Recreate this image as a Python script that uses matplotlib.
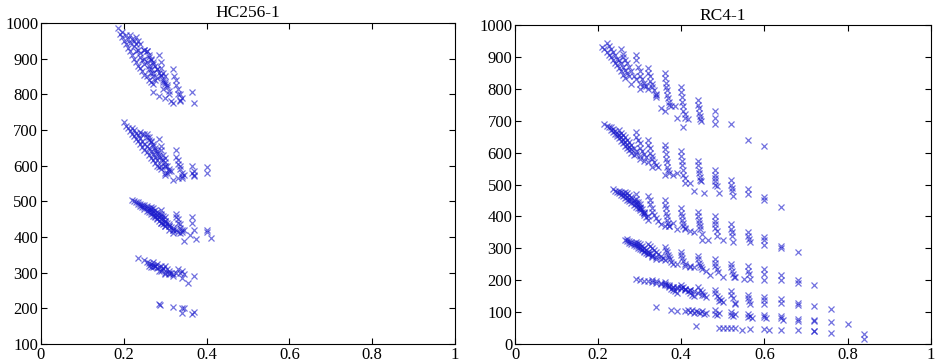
import matplotlib
matplotlib.use("Agg")
import matplotlib.pyplot as plt

# HC256-1
hc_band1_x = [0.185, 0.19, 0.195, 0.2, 0.205, 0.21, 0.215, 0.22, 0.225, 0.23, 0.235, 0.24, 0.245, 0.25, 0.255, 0.26, 0.265, 0.27,
              0.195, 0.205, 0.21, 0.215, 0.225, 0.23, 0.24, 0.245, 0.25, 0.26, 0.265, 0.27, 0.275,
              0.215, 0.22, 0.225, 0.23, 0.235, 0.24, 0.25, 0.255, 0.26, 0.265, 0.27, 0.28,
              0.23, 0.235, 0.24, 0.25, 0.255, 0.26, 0.265, 0.27, 0.28, 0.285, 0.29, 0.295,
              0.25, 0.255, 0.26, 0.265, 0.27, 0.275, 0.28, 0.29, 0.295, 0.3, 0.305,
              0.285, 0.29, 0.29, 0.295, 0.3, 0.3, 0.305, 0.31,
              0.32, 0.322, 0.325, 0.325, 0.33, 0.33, 0.335,
              0.27, 0.285, 0.3, 0.315, 0.32, 0.335, 0.335, 0.365, 0.37, 0.31, 0.295, 0.34]
hc_band1_y = [985, 970, 960, 950, 940, 930, 920, 910, 900, 890, 880, 875, 865, 855, 850, 840, 835, 830,
              975, 965, 955, 945, 935, 920, 905, 895, 885, 870, 860, 850, 840,
              965, 955, 950, 940, 925, 915, 900, 890, 880, 870, 860, 845,
              960, 950, 940, 925, 920, 905, 895, 885, 870, 860, 850, 835,
              925, 920, 910, 900, 890, 880, 870, 855, 840, 830, 820,
              910, 890, 875, 860, 850, 835, 825, 810,
              870, 850, 840, 825, 815, 800, 785,
              805, 795, 790, 780, 775, 780, 800, 805, 775, 800, 815, 790]

hc_band2_x = [0.2, 0.205, 0.21, 0.215, 0.22, 0.225, 0.23, 0.235, 0.24, 0.245, 0.25, 0.255, 0.26, 0.265, 0.27, 0.275, 0.28, 0.285, 0.29,
              0.22, 0.225, 0.23, 0.235, 0.24, 0.245, 0.25, 0.255, 0.26, 0.265, 0.27, 0.275, 0.28, 0.29, 0.3,
              0.24, 0.245, 0.25, 0.255, 0.26, 0.265, 0.27, 0.275, 0.28, 0.285, 0.29, 0.3, 0.31,
              0.255, 0.26, 0.265, 0.27, 0.275, 0.28, 0.285, 0.295, 0.3,
              0.285, 0.29, 0.29, 0.295, 0.3, 0.3, 0.305, 0.31, 0.315,
              0.325, 0.325, 0.33, 0.33, 0.335, 0.335, 0.34, 0.34,
              0.32, 0.33, 0.34, 0.345, 0.365, 0.365, 0.37, 0.37, 0.37, 0.4, 0.4, 0.3, 0.305]
hc_band2_y = [722, 712, 705, 698, 690, 682, 675, 668, 660, 652, 645, 638, 630, 622, 615, 608, 600, 595, 590,
              705, 700, 692, 685, 678, 670, 662, 655, 648, 640, 632, 625, 615, 600, 580,
              695, 688, 690, 680, 672, 665, 655, 645, 635, 625, 615, 600, 585,
              690, 680, 670, 660, 650, 640, 630, 615, 600,
              675, 655, 645, 630, 620, 610, 600, 590, 585,
              645, 625, 615, 605, 600, 590, 580, 570,
              560, 565, 565, 575, 600, 580, 575, 585, 570, 595, 580, 575, 580]

hc_band3_x = [0.22, 0.225, 0.23, 0.235, 0.24, 0.245, 0.25, 0.255, 0.26, 0.265, 0.27, 0.275, 0.28, 0.285, 0.29, 0.295, 0.3,
              0.235, 0.24, 0.245, 0.25, 0.255, 0.26, 0.265, 0.27, 0.275, 0.28, 0.29, 0.3, 0.31,
              0.25, 0.255, 0.26, 0.265, 0.27, 0.275, 0.28, 0.285, 0.29, 0.3, 0.31, 0.32,
              0.265, 0.27, 0.275, 0.28, 0.285, 0.29, 0.295, 0.3, 0.31, 0.32,
              0.29, 0.29, 0.295, 0.3, 0.3, 0.305, 0.31, 0.315, 0.32, 0.325, 0.33,
              0.325, 0.325, 0.33, 0.33, 0.335, 0.335, 0.34, 0.34,
              0.365, 0.365, 0.37, 0.36, 0.345, 0.375, 0.4, 0.4, 0.41, 0.32, 0.345, 0.335]
hc_band3_y = [505, 500, 497, 492, 488, 483, 478, 474, 470, 465, 460, 455, 450, 445, 440, 435, 430,
              498, 493, 490, 485, 480, 475, 470, 466, 460, 452, 440, 430, 420,
              490, 487, 482, 478, 473, 468, 462, 456, 450, 440, 430, 420,
              485, 480, 475, 470, 463, 458, 450, 445, 432, 420,
              475, 465, 460, 455, 445, 440, 435, 428, 425, 420, 415,
              465, 455, 450, 440, 435, 425, 420, 415,
              455, 440, 420, 405, 390, 395, 420, 415, 398, 410, 420, 410]

hc_band4_x = [0.235, 0.25, 0.255, 0.26, 0.265, 0.27, 0.27, 0.275, 0.28, 0.28, 0.285, 0.29, 0.29, 0.295, 0.3, 0.3, 0.305,
              0.31, 0.31, 0.315, 0.32, 0.325, 0.33, 0.335, 0.34, 0.345, 0.34, 0.355, 0.37,
              0.26, 0.265, 0.275, 0.285, 0.295, 0.3, 0.31, 0.32, 0.27]
hc_band4_y = [342, 335, 330, 328, 325, 322, 315, 320, 325, 312, 315, 320, 305, 312, 318, 300, 310,
              305, 295, 300, 295, 300, 310, 300, 305, 295, 285, 270, 290,
              320, 315, 318, 305, 310, 295, 300, 290, 330]

hc_band5_x = [0.285, 0.287, 0.32, 0.34, 0.345, 0.34, 0.365, 0.37]
hc_band5_y = [213, 210, 203, 200, 200, 187, 185, 190]

# RC4-1
rc_band1_x = [0.21, 0.215, 0.22, 0.225, 0.23, 0.235, 0.24, 0.245, 0.25, 0.255, 0.26, 0.265,
              0.22, 0.225, 0.23, 0.235, 0.24, 0.245, 0.25, 0.255, 0.26, 0.265, 0.27, 0.275,
              0.255, 0.26, 0.26, 0.265, 0.27, 0.275, 0.28, 0.285, 0.29, 0.3,
              0.29, 0.29, 0.295, 0.3, 0.3, 0.305, 0.31, 0.315, 0.32,
              0.32, 0.32, 0.325, 0.325, 0.33, 0.33, 0.335, 0.34, 0.34,
              0.36, 0.36, 0.362, 0.362, 0.365, 0.365, 0.368, 0.37, 0.37,
              0.4, 0.4, 0.402, 0.402, 0.405, 0.405, 0.408, 0.41,
              0.44, 0.44, 0.442, 0.442, 0.445, 0.445, 0.448,
              0.48, 0.48, 0.48,
              0.52, 0.56, 0.6, 0.35, 0.36, 0.375, 0.385, 0.39, 0.405, 0.415, 0.3, 0.31, 0.28, 0.34]
rc_band1_y = [930, 925, 915, 905, 900, 890, 880, 875, 865, 855, 845, 835,
              945, 935, 925, 915, 905, 895, 890, 880, 870, 860, 850, 840,
              925, 910, 900, 890, 880, 870, 855, 840, 830, 815,
              905, 890, 870, 855, 840, 830, 820, 810, 800,
              865, 850, 840, 825, 815, 805, 795, 785, 775,
              850, 835, 820, 805, 795, 780, 770, 760, 750,
              805, 790, 775, 760, 745, 730, 720, 710,
              765, 750, 740, 725, 715, 705, 700,
              730, 710, 690,
              690, 640, 620, 740, 730, 745, 745, 710, 680, 705, 800, 810, 815, 780]

rc_band2_x = [0.215, 0.22, 0.225, 0.23, 0.235, 0.24, 0.245, 0.25, 0.255, 0.26, 0.265, 0.27, 0.275, 0.28, 0.285,
              0.23, 0.235, 0.24, 0.245, 0.25, 0.255, 0.26, 0.265, 0.27, 0.275, 0.28, 0.29, 0.3,
              0.25, 0.255, 0.26, 0.265, 0.27, 0.275, 0.28, 0.285, 0.29, 0.3, 0.31,
              0.29, 0.29, 0.295, 0.3, 0.3, 0.305, 0.31, 0.315, 0.32,
              0.32, 0.32, 0.325, 0.325, 0.33, 0.33, 0.335, 0.34, 0.345,
              0.36, 0.36, 0.362, 0.362, 0.365, 0.365, 0.368, 0.37, 0.36,
              0.4, 0.4, 0.402, 0.402, 0.405, 0.405, 0.408, 0.41,
              0.44, 0.44, 0.442, 0.442, 0.445, 0.445, 0.448,
              0.48, 0.48, 0.48, 0.482, 0.482, 0.485,
              0.52, 0.52, 0.522, 0.522, 0.525,
              0.56, 0.56, 0.6, 0.6, 0.64, 0.42, 0.43, 0.455, 0.49, 0.38, 0.39, 0.33]
rc_band2_y = [690, 685, 680, 672, 665, 660, 652, 645, 638, 630, 622, 615, 608, 600, 592,
              680, 675, 668, 660, 655, 648, 640, 632, 625, 618, 610, 595, 580,
              670, 662, 655, 648, 640, 632, 625, 615, 605, 590, 575,
              665, 650, 640, 630, 615, 605, 595, 585, 570,
              640, 625, 615, 600, 590, 580, 570, 560, 555,
              625, 610, 595, 580, 570, 555, 545, 535, 530,
              605, 590, 575, 560, 545, 530, 520, 505,
              575, 560, 545, 535, 525, 515, 510,
              545, 530, 520, 510, 500, 495,
              515, 500, 490, 480, 465,
              485, 470, 460, 450, 430, 505, 480, 475, 475, 530, 535, 555]

rc_band3_x = [0.235, 0.24, 0.245, 0.25, 0.255, 0.26, 0.265, 0.27, 0.275, 0.28, 0.285, 0.29, 0.295, 0.3, 0.31, 0.32,
              0.25, 0.255, 0.26, 0.265, 0.27, 0.275, 0.28, 0.285, 0.29, 0.3, 0.31,
              0.265, 0.27, 0.275, 0.28, 0.285, 0.29, 0.295, 0.3, 0.305, 0.31,
              0.29, 0.29, 0.295, 0.3, 0.3, 0.305, 0.31, 0.315, 0.32,
              0.32, 0.325, 0.325, 0.33, 0.33, 0.335, 0.34, 0.345, 0.35,
              0.36, 0.36, 0.362, 0.362, 0.365, 0.365, 0.368, 0.37, 0.36,
              0.4, 0.4, 0.402, 0.402, 0.405, 0.405, 0.408, 0.41, 0.42,
              0.44, 0.44, 0.442, 0.442, 0.445, 0.445, 0.45,
              0.48, 0.48, 0.482, 0.482, 0.485, 0.485,
              0.52, 0.52, 0.522, 0.522, 0.525,
              0.56, 0.56, 0.562, 0.565,
              0.6, 0.6, 0.6, 0.64, 0.64, 0.68, 0.45, 0.465, 0.43, 0.5, 0.37, 0.38, 0.39]
rc_band3_y = [485, 480, 476, 472, 468, 463, 458, 452, 447, 442, 436, 430, 425, 420, 410, 400,
              480, 476, 472, 468, 462, 456, 450, 444, 438, 425, 412,
              478, 472, 466, 460, 452, 445, 438, 430, 422, 415,
              470, 455, 445, 440, 425, 415, 405, 398, 390,
              465, 450, 440, 425, 415, 405, 395, 385, 375,
              450, 435, 425, 410, 400, 390, 380, 370, 370,
              425, 410, 400, 390, 380, 370, 365, 360, 355,
              415, 400, 390, 380, 370, 360, 345,
              400, 385, 375, 365, 355, 340,
              375, 360, 350, 340, 320,
              350, 340, 330, 320,
              335, 325, 310, 308, 302, 290, 325, 325, 350, 325, 370, 380, 360]

rc_band4_x = [0.265, 0.27, 0.275, 0.28, 0.285, 0.29, 0.295, 0.3, 0.305, 0.31, 0.315, 0.32, 0.33, 0.34,
              0.27, 0.275, 0.28, 0.285, 0.29, 0.295, 0.3, 0.305, 0.31, 0.32, 0.33,
              0.29, 0.295, 0.3, 0.305, 0.31, 0.315, 0.32, 0.325, 0.33, 0.34, 0.35,
              0.32, 0.325, 0.33, 0.335, 0.34, 0.345, 0.35, 0.355, 0.36,
              0.36, 0.362, 0.365, 0.368, 0.37, 0.372, 0.375, 0.38, 0.39,
              0.4, 0.4, 0.402, 0.405, 0.408, 0.41, 0.42,
              0.44, 0.44, 0.442, 0.445, 0.448, 0.45, 0.46,
              0.48, 0.48, 0.482, 0.485, 0.488,
              0.52, 0.52, 0.522, 0.525, 0.528,
              0.56, 0.56, 0.562, 0.565,
              0.6, 0.6, 0.6, 0.64, 0.64, 0.68, 0.68, 0.72, 0.47, 0.5, 0.55, 0.53, 0.43, 0.42]
rc_band4_y = [325, 322, 318, 314, 310, 306, 302, 298, 294, 290, 286, 282, 275, 268,
              328, 324, 320, 316, 312, 308, 304, 298, 292, 282, 272,
              320, 316, 312, 306, 300, 296, 290, 285, 280, 272, 265,
              315, 308, 302, 296, 290, 282, 275, 270, 262,
              305, 295, 288, 280, 272, 265, 258, 250, 250,
              290, 280, 270, 260, 250, 245, 240,
              275, 265, 255, 248, 240, 235, 230,
              265, 255, 245, 235, 225,
              250, 240, 230, 220, 210,
              245, 230, 220, 205,
              235, 220, 200, 215, 200, 200, 190, 185, 215, 210, 205, 210, 240, 245]

rc_band5_x = [0.29, 0.3, 0.31, 0.32, 0.33, 0.34, 0.35, 0.36, 0.37, 0.38, 0.39, 0.4, 0.41, 0.42,
              0.33, 0.34, 0.35, 0.36, 0.37, 0.38, 0.39, 0.4, 0.41, 0.42, 0.43, 0.44, 0.45,
              0.36, 0.365, 0.37, 0.375, 0.38, 0.385, 0.39,
              0.4, 0.405, 0.41, 0.415, 0.42, 0.425, 0.43,
              0.44, 0.445, 0.45, 0.455, 0.46,
              0.48, 0.48, 0.485, 0.49, 0.495, 0.5,
              0.52, 0.52, 0.525, 0.53,
              0.56, 0.56, 0.562, 0.565,
              0.6, 0.6, 0.6, 0.64, 0.64, 0.68, 0.68, 0.72, 0.76, 0.49, 0.53, 0.34]
rc_band5_y = [205, 202, 198, 196, 194, 190, 188, 185, 182, 180, 177, 174, 170, 168,
              200, 196, 192, 188, 184, 180, 178, 175, 172, 168, 165, 160, 155,
              195, 185, 178, 172, 168, 165, 160,
              185, 178, 172, 165, 160, 155, 150,
              178, 170, 162, 155, 148,
              170, 160, 152, 145, 138, 132,
              165, 155, 145, 130,
              155, 145, 135, 125,
              148, 138, 125, 140, 128, 130, 122, 118, 110, 135, 125, 115]

rc_band6_x = [0.375, 0.39, 0.41, 0.415, 0.42, 0.425, 0.43, 0.435, 0.44, 0.445, 0.45, 0.455, 0.46,
              0.48, 0.48, 0.485, 0.49, 0.52, 0.52, 0.525, 0.53, 0.56, 0.56, 0.565, 0.57,
              0.6, 0.6, 0.605, 0.64, 0.64, 0.645, 0.68, 0.68, 0.72, 0.72, 0.76, 0.8, 0.84, 0.84,
              0.435, 0.49, 0.5, 0.51, 0.52, 0.53, 0.545, 0.565, 0.6, 0.61, 0.64, 0.68, 0.72, 0.72, 0.76]
rc_band6_y = [105, 103, 102, 108, 100, 105, 98, 103, 100, 96, 102, 95, 98,
              105, 95, 92, 98, 100, 92, 88, 95, 95, 85, 88, 80,
              92, 85, 80, 88, 80, 75, 78, 72, 75, 72, 68, 62, 32, 15,
              55, 50, 50, 50, 50, 50, 45, 48, 48, 45, 45, 45, 42, 40, 35]

hc_bands = [(hc_band1_x, hc_band1_y), (hc_band2_x, hc_band2_y), (hc_band3_x, hc_band3_y),
            (hc_band4_x, hc_band4_y), (hc_band5_x, hc_band5_y)]
rc_bands = [(rc_band1_x, rc_band1_y), (rc_band2_x, rc_band2_y), (rc_band3_x, rc_band3_y),
            (rc_band4_x, rc_band4_y), (rc_band5_x, rc_band5_y), (rc_band6_x, rc_band6_y)]

plt.rcParams['font.family'] = ['Liberation Serif', 'DejaVu Serif']

fig = plt.figure(figsize=(9.4, 3.64), dpi=100)
ax1 = fig.add_axes([0.0436, 0.055, 0.4404, 0.882])
ax2 = fig.add_axes([0.548, 0.055, 0.442, 0.876])

mk = dict(linestyle='none', marker='x', color='#1a1acc', alpha=0.62, markersize=4.4, markeredgewidth=0.9)

for bx, by in hc_bands:
    ax1.plot(bx, by, **mk)
for bx, by in rc_bands:
    ax2.plot(bx, by, **mk)

ax1.set_xlim(0, 1)
ax1.set_ylim(100, 1000)
ax1.set_yticks(range(100, 1001, 100))
ax1.set_title('HC256-1', fontsize=12.5, pad=4)

ax2.set_xlim(0, 1)
ax2.set_ylim(0, 1000)
ax2.set_yticks(range(0, 1001, 100))
ax2.set_title('RC4-1', fontsize=12.5, pad=4)

for ax in (ax1, ax2):
    ax.set_xticks([0, 0.2, 0.4, 0.6, 0.8, 1])
    ax.set_xticklabels(['0', '0.2', '0.4', '0.6', '0.8', '1'])
    ax.tick_params(direction='in', top=True, right=True, length=4, width=0.8,
                   labelsize=12, pad=2)
    for s in ax.spines.values():
        s.set_linewidth(0.8)

fig.savefig('out.png', dpi=100)
